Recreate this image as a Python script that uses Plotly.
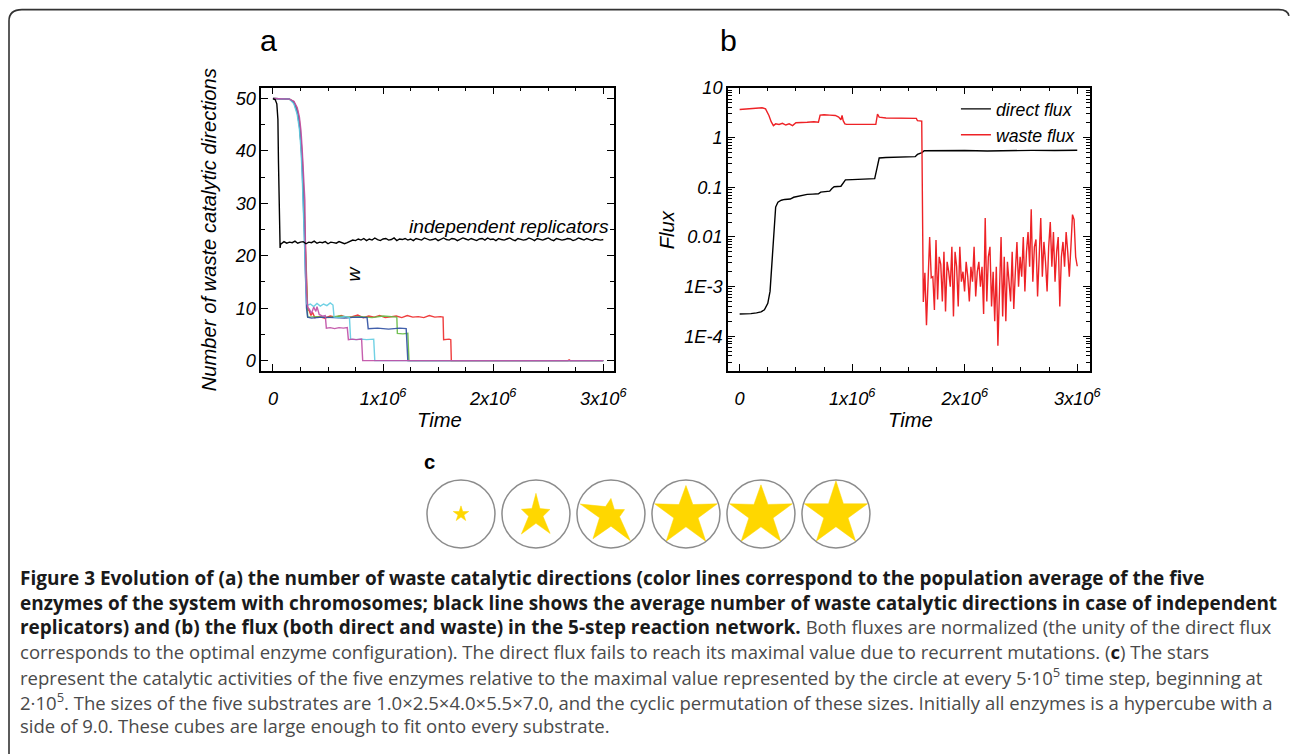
import numpy as np
import plotly.graph_objects as go

W, H = 1292, 754
# screen position (x, y in px of the 1292x754 picture) -> figure paper fraction,
# calibrated from the previous renders (picture = 0.99 * page + (1, 9))
SC, OX, OY = 0.99, 1.0, 9.0
def px(x): return ((x - OX) / SC) / W
def py(y): return 1 - max((y - OY) / SC, 0.6) / H
FS = 1 / SC

# ---------------- Panel a data (time in units of 1e6) ----------------
BLACK_T_HEAD = [0, 0.02, 0.035, 0.045, 0.05, 0.055, 0.06, 0.065, 0.07]
BLACK_Y_HEAD = [50, 49.8, 49.0, 46.0, 38.0, 28.0, 23.0, 21.5, 22.3]
BLACK_T0, BLACK_DT = 0.075, 0.025
BLACK_Y_NOISE = [
    22.3, 22.7, 22.4, 22.6, 22.5, 22.8, 22.4, 22.6, 22.7, 22.3, 22.6, 22.5, 22.8,
    22.4, 22.6, 22.5, 22.7, 22.3, 22.6, 22.5, 22.4, 22.7, 22.5, 22.3, 22.5,
    22.8, 23.0, 22.9, 23.2, 23.0,
    23.3, 22.9, 23.2, 23.0, 23.4, 23.1, 22.9, 23.2, 23.3, 23.0, 23.1,
    23.4, 22.9, 23.2, 23.1, 23.3, 23.0, 23.2, 22.9, 23.3, 23.1, 23.0,
    23.4, 23.2, 23.0, 23.1, 23.3, 22.9, 23.2, 23.4, 23.1, 23.0, 23.3,
    23.2, 22.9, 23.1, 23.4, 23.2, 23.0, 23.3, 23.1, 22.9, 23.2, 23.3,
    23.0, 23.4, 23.1, 23.2, 22.9, 23.3, 23.1, 23.0, 23.2, 23.4, 23.1,
    22.9, 23.3, 23.2, 23.0, 23.1, 23.4, 23.2, 22.9, 23.3, 23.1, 23.0,
    23.2, 23.4, 23.1, 22.9, 23.3, 23.2, 23.0, 23.1, 23.3, 23.2, 22.9,
    23.1, 23.4, 23.2, 23.0, 23.3, 23.1, 22.9, 23.2, 23.1, 23.0, 23.1,
]

RED_T = [0, 0.10, 0.15, 0.19, 0.22, 0.24, 0.255, 0.265, 0.275, 0.285, 0.295, 0.305, 0.315,
         0.33, 0.345, 0.36, 0.38, 0.42, 0.47, 0.52, 0.57, 0.62, 0.67, 0.72, 0.77, 0.82, 0.87,
         0.92, 0.97, 1.02, 1.07, 1.12, 1.17, 1.22, 1.27, 1.32, 1.37, 1.42, 1.47, 1.52, 1.545,
         1.55, 1.60, 1.615, 1.62, 2.68, 2.69, 2.70, 3.0]
RED_Y = [50, 50, 49.9, 49.4, 48.0, 45.8, 42.8, 39.5, 34.5, 28, 20, 12.5, 9.8,
         9.5, 8.6, 9.2, 8.2, 8.4, 8.1, 8.5, 8.3, 8.6, 8.2, 8.4, 8.7, 8.2, 8.5,
         8.3, 8.6, 8.2, 8.4, 8.5, 8.2, 8.6, 8.3, 8.4, 8.2, 8.6, 8.3, 8.4, 8.3,
         4.0, 4.1, 4.0, 0, 0, 0.15, 0, 0]
GREEN_T = [0, 0.10, 0.15, 0.19, 0.22, 0.24, 0.255, 0.265, 0.275, 0.285, 0.295, 0.305, 0.315,
           0.4, 0.5, 0.6, 0.7, 0.8, 0.9, 1.0, 1.1, 1.125, 1.13, 1.18, 1.225, 1.235, 3.0]
GREEN_Y = [50, 50, 49.9, 49.3, 47.7, 45.3, 42.0, 38.5, 33.0, 26.5, 18.5, 11.0, 8.3,
           8.4, 8.2, 8.5, 8.3, 8.4, 8.2, 8.5, 8.3, 8.3, 5.2, 5.1, 5.2, 0, 0]
BLUE_T = [0, 0.10, 0.15, 0.19, 0.22, 0.24, 0.255, 0.265, 0.275, 0.285, 0.295, 0.305, 0.315,
          0.35, 0.45, 0.55, 0.65, 0.75, 0.855, 0.865, 0.95, 1.05, 1.15, 1.21, 1.225, 3.0]
BLUE_Y = [50, 50, 49.9, 49.2, 47.4, 44.8, 41.2, 37.0, 31.5, 24.5, 16.5, 10.0, 8.3,
          8.1, 8.3, 8.2, 8.1, 8.3, 8.2, 6.1, 6.2, 6.0, 6.2, 6.1, 0, 0]
CYAN_T = [0, 0.10, 0.15, 0.19, 0.22, 0.24, 0.255, 0.265, 0.275, 0.285, 0.295, 0.305, 0.315,
          0.34, 0.37, 0.40, 0.43, 0.46, 0.49, 0.52, 0.545, 0.555, 0.60, 0.65, 0.695,
          0.705, 0.75, 0.80, 0.85, 0.915, 0.925, 3.0]
CYAN_Y = [50, 50, 49.9, 49.0, 47.0, 44.2, 40.2, 35.5, 29.5, 22.5, 15.0, 11.0, 10.6,
          10.8, 10.3, 10.9, 10.4, 10.8, 10.5, 11.0, 10.6, 8.3, 8.2, 8.4, 8.2,
          4.1, 4.0, 4.1, 4.0, 4.1, 0, 0]
MAGENTA_T = [0, 0.10, 0.15, 0.19, 0.22, 0.24, 0.255, 0.265, 0.275, 0.285, 0.29, 0.295, 0.305,
             0.315, 0.33, 0.35, 0.37, 0.39, 0.40, 0.42, 0.45, 0.475, 0.485, 0.52, 0.56, 0.60,
             0.64, 0.675, 0.685, 0.72, 0.76, 0.805, 0.815, 3.0]
MAGENTA_Y = [50, 50, 49.9, 49.5, 48.3, 46.5, 43.8, 40.5, 36.0, 31.0, 30.5, 22.0, 13.0,
             10.2, 9.8, 9.0, 10.2, 9.4, 10.3, 8.8, 8.5, 8.6, 6.2, 6.3, 6.1, 6.3,
             6.2, 6.3, 4.0, 4.1, 4.0, 4.1, 0, 0]

ENZYME_SERIES = [
    ("#ee2a2a", RED_T, RED_Y),
    ("#66bb44", GREEN_T, GREEN_Y),
    ("#2e4fa3", BLUE_T, BLUE_Y),
    ("#62cde2", CYAN_T, CYAN_Y),
    ("#c04ea6", MAGENTA_T, MAGENTA_Y),
]

# ---------------- Panel b data ----------------
DIRECT_T = [0, 0.05, 0.10, 0.15, 0.19, 0.22, 0.25, 0.27, 0.285, 0.295,
            0.305, 0.312, 0.32, 0.34, 0.37, 0.40, 0.45, 0.48, 0.52, 0.55,
            0.60, 0.65, 0.70, 0.72, 0.75, 0.80, 0.82, 0.84, 0.90, 0.92,
            0.94, 1.00, 1.10, 1.20, 1.22, 1.24, 1.30, 1.40, 1.50, 1.56,
            1.58, 1.60, 1.62, 1.64, 1.80, 2.00, 2.20, 2.40, 2.60, 2.80, 3.00]
DIRECT_Y = [2.8e-4, 2.8e-4, 2.85e-4, 2.95e-4, 3.1e-4, 3.4e-4, 4.6e-4, 8e-4, 2.5e-3, 6e-3,
            0.015, 0.03, 0.04, 0.05, 0.055, 0.057, 0.058, 0.063, 0.066, 0.068,
            0.072, 0.073, 0.074, 0.080, 0.082, 0.084, 0.095, 0.103, 0.105, 0.125,
            0.141, 0.143, 0.145, 0.150, 0.24, 0.39, 0.40, 0.41, 0.41, 0.415,
            0.46, 0.48, 0.50, 0.545, 0.55, 0.55, 0.54, 0.55, 0.555, 0.55, 0.56]

WASTE_T_HEAD = [0, 0.10, 0.20, 0.23, 0.26, 0.28, 0.30, 0.32, 0.35, 0.38,
                0.41, 0.44, 0.47, 0.50, 0.55, 0.60, 0.66, 0.70, 0.715, 0.75,
                0.80, 0.85, 0.88, 0.90, 0.91, 0.92, 0.935, 0.95, 1.00, 1.10,
                1.21, 1.225, 1.24, 1.30, 1.40, 1.50, 1.57, 1.58, 1.61, 1.618]
WASTE_Y_HEAD = [3.7, 3.9, 4.0, 3.8, 2.8, 2.1, 1.75, 1.9, 1.85, 1.95,
                1.8, 1.9, 1.75, 2.0, 2.0, 2.05, 2.1, 2.05, 2.85, 2.9,
                2.85, 2.8, 2.6, 2.3, 2.8, 2.2, 1.9, 1.85, 1.85, 1.85,
                1.85, 3.0, 2.6, 2.5, 2.5, 2.5, 2.45, 2.2, 2.2, 2.15]
WASTE_TAIL_T0, WASTE_TAIL_T1 = 1.632, 3.0
WASTE_TAIL_LOG10 = [
    -3.31, -2.72, -3.78, -2.9, -2.0, -2.82, -2.8, -3.47, -2.06, -3.26, -2.4, -2.55, -3.3,
    -2.3, -3.5, -2.5, -2.7, -3.0, -2.2, -3.6, -2.3, -2.6, -3.4, -2.2, -2.9, -2.7, -3.1,
    -2.5, -2.8, -3.3, -2.6, -2.9, -2.2, -3.2, -2.7, -2.5, -3.0, -2.6, -3.55, -1.62, -3.3,
    -2.4, -2.2, -3.4, -2.7, -3.7, -2.6, -4.19, -3.2, -2.0, -3.6, -2.4, -3.7, -2.5, -2.9, -3.3,
    -2.3, -3.45, -2.7, -2.1, -3.0, -2.4, -2.8, -2.0, -3.1, -2.3, -1.9, -2.6, -1.44, -2.9,
    -2.2, -2.05, -3.2, -2.4, -1.62, -2.8, -2.1, -2.5, -3.1, -2.2, -1.7, -2.6, -1.9, -2.9,
    -2.3, -2.0, -3.4, -2.4, -2.1, -2.6, -1.9, -2.3, -2.8, -2.2, -1.55, -1.65, -2.4, -2.59,
]

# ---------------- Panel c data: relative catalytic activity of the 5 enzymes ----------------
# arm order: top, right, lower-right, lower-left, left
STAR_ACTIVITIES = [
    [0.24, 0.24, 0.24, 0.24, 0.24],
    [0.61, 0.43, 0.71, 0.73, 0.45],
    [0.46, 0.42, 0.97, 0.90, 0.95],
    [0.84, 0.97, 0.99, 0.99, 0.97],
    [0.86, 0.97, 0.99, 0.99, 0.97],
    [0.98, 0.98, 0.98, 0.98, 0.98],
]

X_TICKVALS = [0, 1e6, 2e6, 3e6]
X_TICKTEXT = ["0", "1x10<sup>6</sup>", "2x10<sup>6</sup>", "3x10<sup>6</sup>"]
A_Y_TICKVALS = [0, 10, 20, 30, 40, 50]
B_Y_TICKVALS = [1e-4, 1e-3, 0.01, 0.1, 1, 10]
B_Y_TICKTEXT = ["1E-4", "1E-3", "0.01", "0.1", "1", "10"]

BOLD_SIZE, REG_SIZE = 18.8 * FS, 18.35 * FS
G = "<span style='color:#4a4a4a;font-size:%.2fpx'>" % REG_SIZE
CAPTION_LINES = [
    "<b>Figure 3 Evolution of (a) the number of waste catalytic directions (color lines correspond to the population average of the five</b>",
    "<b>enzymes of the system with chromosomes; black line shows the average number of waste catalytic directions in case of independent</b>",
    "<b>replicators) and (b) the flux (both direct and waste) in the 5-step reaction network.</b> " + G + "Both fluxes are normalized (the unity of the direct flux</span>",
    G + "corresponds to the optimal enzyme configuration). The direct flux fails to reach its maximal value due to recurrent mutations. (</span><b>c</b>" + G + ") The stars</span>",
    G + "represent the catalytic activities of the five enzymes relative to the maximal value represented by the circle at every 5·10<sup>5</sup> time step, beginning at</span>",
    G + "2·10<sup>5</sup>. The sizes of the five substrates are 1.0×2.5×4.0×5.5×7.0, and the cyclic permutation of these sizes. Initially all enzymes is a hypercube with a</span>",
    G + "side of 9.0. These cubes are large enough to fit onto every substrate.</span>",
]
CAPTION_LINE_SIZES = [BOLD_SIZE, BOLD_SIZE, BOLD_SIZE, REG_SIZE, REG_SIZE, REG_SIZE, REG_SIZE]

# ---------------- figure ----------------
SANS = "Liberation Sans, Arial, Helvetica, sans-serif"
fig = go.Figure()
M = 1e6

for color, t, y in ENZYME_SERIES:
    fig.add_trace(go.Scatter(x=[v * M for v in t], y=y, mode="lines",
                             line=dict(color=color, width=1.4), opacity=0.9,
                             showlegend=False, xaxis="x", yaxis="y"))

black_t = BLACK_T_HEAD + [BLACK_T0 + i * BLACK_DT for i in range(len(BLACK_Y_NOISE))]
black_y = BLACK_Y_HEAD + BLACK_Y_NOISE
fig.add_trace(go.Scatter(x=[v * M for v in black_t], y=black_y, mode="lines",
                         line=dict(color="black", width=1.4), showlegend=False,
                         xaxis="x", yaxis="y"))

fig.add_trace(go.Scatter(x=[v * M for v in DIRECT_T], y=DIRECT_Y, mode="lines",
                         line=dict(color="black", width=1.4), name="direct flux",
                         xaxis="x2", yaxis="y2"))
n_tail = len(WASTE_TAIL_LOG10)
tail_t = [WASTE_TAIL_T0 + i * (WASTE_TAIL_T1 - WASTE_TAIL_T0) / (n_tail - 1) for i in range(n_tail)]
waste_t = WASTE_T_HEAD + tail_t
waste_y = WASTE_Y_HEAD + [10 ** v for v in WASTE_TAIL_LOG10]
fig.add_trace(go.Scatter(x=[v * M for v in waste_t], y=waste_y, mode="lines",
                         line=dict(color="#ee2226", width=1.4), name="waste flux",
                         xaxis="x2", yaxis="y2"))

# stars
UNIT = 34.0        # screen px per circle radius
SPACING = 75.0     # screen px between circle centres
shapes = []
for i, arms in enumerate(STAR_ACTIVITIES):
    cx = i * SPACING / UNIT
    xs, ys = [], []
    for k in range(5):
        a_out = np.deg2rad(90 - 72 * k)
        xs.append(cx + arms[k] * np.cos(a_out)); ys.append(arms[k] * np.sin(a_out))
        a_in = np.deg2rad(90 - 36 - 72 * k)
        r_in = 0.382 * (arms[k] + arms[(k + 1) % 5]) / 2
        xs.append(cx + r_in * np.cos(a_in)); ys.append(r_in * np.sin(a_in))
    xs.append(xs[0]); ys.append(ys[0])
    fig.add_trace(go.Scatter(x=xs, y=ys, mode="lines", fill="toself",
                             fillcolor="#FFD700", line=dict(color="#FFD700", width=0.5),
                             showlegend=False, hoverinfo="skip", xaxis="x3", yaxis="y3"))
    shapes.append(dict(type="circle", xref="x3", yref="y3", x0=cx - 1, x1=cx + 1, y0=-1, y1=1,
                       line=dict(color="#8c8c8c", width=1.5)))

tickfont = dict(family=SANS, size=18 * FS, color="black", style="italic")
common_x = dict(tickvals=X_TICKVALS, ticktext=X_TICKTEXT, ticks="inside", ticklen=7,
                tickwidth=1.3, tickcolor="black", showline=True, linecolor="black",
                linewidth=1.5, mirror="ticks", showgrid=False, zeroline=False,
                tickfont=tickfont, ticklabelstandoff=10,
                minor=dict(ticks="inside", ticklen=4, tickwidth=1.1, tickcolor="black",
                           tick0=0, dtick=0.25e6))

layout = dict(
    width=W, height=H, margin=dict(l=0, r=0, t=0, b=0),
    paper_bgcolor="white", plot_bgcolor="white",
    xaxis=dict(domain=[px(262.3), px(615)], range=[-0.106e6, 3.097e6], anchor="y", **common_x),
    yaxis=dict(domain=[py(371.7), py(87.7)], range=[-1.98, 52.1], anchor="x",
               tickvals=A_Y_TICKVALS, ticks="inside", ticklen=7, tickwidth=1.3, tickcolor="black",
               showline=True, linecolor="black", linewidth=1.5, mirror="ticks",
               showgrid=False, zeroline=False, tickfont=tickfont,
               minor=dict(ticks="inside", ticklen=4, tickwidth=1.1, tickcolor="black", tick0=0, dtick=5)),
    xaxis2=dict(domain=[px(729), px(1090.7)], range=[-0.104e6, 3.11e6], anchor="y2", **common_x),
    yaxis2=dict(domain=[py(371.7), py(87.7)], type="log", range=[-4.70, 1.01], anchor="x2",
                tickvals=B_Y_TICKVALS, ticktext=B_Y_TICKTEXT, ticks="inside", ticklen=7,
                tickwidth=1.3, tickcolor="black", showline=True, linecolor="black", linewidth=1.5,
                mirror="ticks", showgrid=False, zeroline=False, tickfont=tickfont,
                minor=dict(ticks="inside", ticklen=4, tickwidth=1.0, tickcolor="black", dtick="D1")),
    xaxis3=dict(domain=[px(420), px(880)], range=[-42 / UNIT, (880 - 462) / UNIT], anchor="y3",
                visible=False, fixedrange=True),
    yaxis3=dict(domain=[py(552), py(478)], range=[-37 / UNIT, 37 / UNIT], anchor="x3",
                visible=False, fixedrange=True),
    showlegend=True,
    legend=dict(x=px(957), y=py(91), xanchor="left", yanchor="top", bgcolor="rgba(0,0,0,0)",
                font=dict(family=SANS, size=17.5 * FS, color="black", style="italic"),
                tracegroupgap=0, itemwidth=30),
)
fig.update_layout(**layout)

# outer rounded frame
def P(x, y): return f"{px(x):.5f},{py(y):.5f}"
frame_path = (f"M {P(10, 760)} L {P(10, 21)} Q {P(10, 8)} {P(23, 8)} "
              f"L {P(1280, 8)} Q {P(1289, 8)} {P(1290, 16)}")
shapes.append(dict(type="path", xref="paper", yref="paper", path=frame_path,
                   line=dict(color="#333333", width=1.6)))
fig.update_layout(shapes=shapes)

ann = []
def A(text, x, y, size, family=SANS, color="black", style="normal",
      xanchor="center", yanchor="middle", **kw):
    d = dict(text=text, x=px(x), y=py(y), xref="paper", yref="paper", showarrow=False,
             xanchor=xanchor, yanchor=yanchor,
             font=dict(family=family, size=size, color=color, style=style))
    d.update(kw)
    ann.append(d)

A("a", 269.5, 41, 30 * FS)
A("b", 729.5, 41, 30 * FS)
A("<b>c</b>", 431, 463, 20 * FS)
A("Number of waste catalytic directions", 210, 229.7, 20 * FS, style="italic", textangle=-90)
A("Flux", 668, 229.7, 20 * FS, style="italic", textangle=-90)
A("Time", 441, 421, 20 * FS, style="italic")
A("Time", 912, 421, 20 * FS, style="italic")
A("independent replicators", 510, 227, 19 * FS, style="italic")
A("w", 355, 274, 19 * FS, style="italic", textangle=-90)

CAPTION_Y0, CAPTION_DY = 579, 24.7
for i, line in enumerate(CAPTION_LINES):
    A(line, 19, CAPTION_Y0 + i * CAPTION_DY, CAPTION_LINE_SIZES[i], family="Open Sans, sans-serif",
      color="#1a1a1a", xanchor="left", yanchor="middle")

fig.update_layout(annotations=ann)
# the page's default 8px body margin would push the figure out of the window
fig.write_html("out.html", config={"displayModeBar": False},
               post_script="document.body.style.margin='0px';")
